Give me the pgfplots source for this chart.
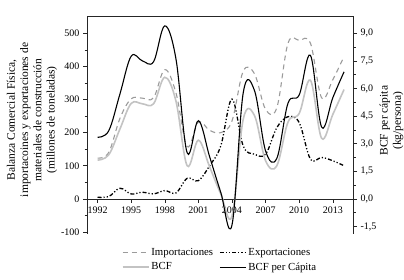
\documentclass[border=0pt]{standalone}
\usepackage{fontspec}
\setmainfont{Liberation Serif}
\usepackage{pgfplots}
\usepackage{pgfplotstable}
\pgfplotsset{compat=1.18}

\pgfplotstableread{
year imp exp bcf pc
1992 123 5 117 3.35
1993 140 7 133 3.7
1994 243 32 211 5.7
1995 302 15 288 7.75
1996 304 20 287 7.5
1997 305 15 287 7.45
1998 390 25 367 9.4
1999 320 18 295 7.6
2000 158 62 100 2.5
2001 232 55 177 4.25
2002 207 100 97 2.3
2003 200 160 15 0.35
2004 235 301 -52 -1.42
2005 385 160 240 5.75
2006 378 135 252 5.9
2007 270 135 115 2.6
2008 275 215 100 2.2
2009 470 248 232 5.2
2010 478 230 258 5.65
2011 470 120 358 7.8
2012 305 125 183 3.9
2013 360 115 255 5.5
2014 430 100 330 6.9
}\datatable

\definecolor{impgray}{RGB}{155,155,155}
\definecolor{bcfgray}{RGB}{195,195,195}

\tikzset{
 impstyle/.style={impgray, line width=1.1pt, dash pattern=on 5pt off 4pt},
 expstyle/.style={black, line width=1.3pt, dash pattern=on 4pt off 2pt on 1.2pt off 2pt on 1.2pt off 2pt},
 bcfstyle/.style={bcfgray, line width=1.6pt},
 pcstyle/.style={black, line width=1.1pt},
}

\pgfplotsset{
 common/.style={
  at={(87pt,46pt)}, anchor=south west,
  scale only axis, width=266pt, height=218pt,
  xmin=1991.06, xmax=2014.8,
  axis line style={black!85, line width=0.6pt},
  tick style={black!85, line width=0.5pt},
  major tick length=4pt, minor tick length=2.5pt,
  tick align=outside,
  tick label style={font=\fontsize{10}{12}\selectfont},
  label style={font=\fontsize{11.5}{13.3}\selectfont},
  /pgf/number format/assume math mode=true,
  hide obscured x ticks=false, hide obscured y ticks=false,
 }
}

\begin{document}
\begin{tikzpicture}
\path[use as bounding box] (0,0) rectangle (404pt,280pt);
\begin{axis}[
 common,
 ymin=-106, ymax=552,
 axis y line*=left, axis x line*=middle,
 xtick={1992,1995,...,2013}, minor x tick num=1,
 ytick={-100,0,100,200,300,400,500}, minor y tick num=1,
 x tick label style={/pgf/number format/1000 sep={}},
 ylabel={Balanza Comercial Física,\\ importacoines y exportaciones de\\ materiales de construcción\\ (millones de toneladas)},
 ylabel style={align=center, at={(axis description cs:-0.207,0.523)}, anchor=center},
]
\addplot[impstyle, smooth, tension=0.6] table[x=year, y=imp] {\datatable};
\addplot[expstyle, smooth, tension=0.6] table[x=year, y=exp] {\datatable};
\addplot[bcfstyle, smooth, tension=0.6] table[x=year, y=bcf] {\datatable};
\end{axis}
\begin{axis}[
 common,
 ymin=-1.908, ymax=9.936,
 axis y line*=right, axis x line*=top,
 xtick=\empty,
 ytick={-1.5,0,1.5,3,4.5,6,7.5,9}, minor y tick num=1,
 yticklabel style={/pgf/number format/.cd, fixed, fixed zerofill, precision=1, use comma},
 ylabel={BCF per cápita\\ (kg/persona)},
 ylabel style={align=center, at={(axis description cs:1.145,0.52)}, anchor=center},
 legend columns=2,
 legend cell align=left,
 legend style={at={(0.5,-0.045)}, anchor=north, draw=none, fill=none,
   font=\fontsize{10.8}{13}\selectfont,
   /tikz/every even column/.append style={column sep=4pt},
   row sep=2pt},
 legend image code/.code={\draw[#1] (0pt,0pt) -- (26pt,0pt);},
]
\addlegendimage{impstyle}
\addlegendentry{Importaciones}
\addlegendimage{expstyle}
\addlegendentry{Exportaciones}
\addlegendimage{bcfstyle}
\addlegendentry{BCF}
\addplot[pcstyle, smooth, tension=0.6] table[x=year, y=pc] {\datatable};
\addlegendentry{BCF per Cápita}
\end{axis}
\end{tikzpicture}
\end{document}
